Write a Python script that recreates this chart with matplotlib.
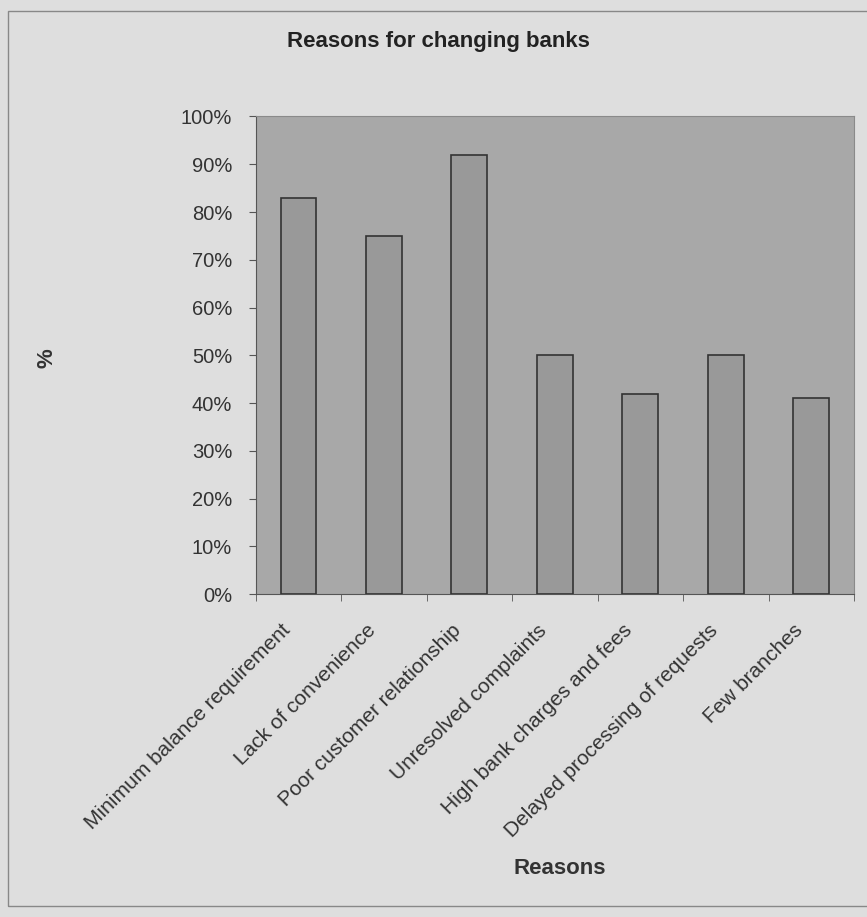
import matplotlib.pyplot as plt
import numpy as np
from matplotlib.patches import Rectangle
from matplotlib.transforms import ScaledTranslation

plt.rcParams['font.family'] = ['Liberation Sans', 'DejaVu Sans']

reasons = ['Minimum balance requirement', 'Lack of convenience',
           'Poor customer relationship', 'Unresolved complaints',
           'High bank charges and fees', 'Delayed processing of requests',
           'Few branches']
percent = [83, 75, 92, 50, 42, 50, 41]

fig = plt.figure(figsize=(8.67, 9.17), dpi=100, facecolor='#dedede')
ax = fig.add_axes([0.295, 0.352, 0.690, 0.521])
ax.set_facecolor('#a8a8a8')

x = np.arange(len(reasons))
ax.bar(x, percent, width=0.42, color='#999999', edgecolor='#333333',
       linewidth=1.2, zorder=3)

ax.set_xlim(-0.5, len(reasons) - 0.5)
ax.set_ylim(0, 100)
ax.set_yticks(np.arange(0, 101, 10))
ax.set_yticklabels([f'{v}%' for v in range(0, 101, 10)], fontsize=14.5,
                   color='#333333')
ax.set_xticks(x)
ax.set_xticklabels(reasons, rotation=45, ha='right', rotation_mode='anchor',
                   fontsize=15, color='#333333')
ax.tick_params(axis='x', length=0, pad=19)
# nudge the slanted category labels left so they end just left of each bar
shift = ScaledTranslation(-0.18, 0, fig.dpi_scale_trans)
for lab in ax.get_xticklabels():
    lab.set_transform(lab.get_transform() + shift)
ax.set_xticks(np.arange(-0.5, len(reasons), 1), minor=True)
ax.tick_params(axis='x', which='minor', length=5, color='#555555')
ax.tick_params(axis='y', length=5, color='#555555', pad=12)

for side in ['left', 'bottom']:
    ax.spines[side].set_color('#555555')
for side in ['top', 'right']:
    ax.spines[side].set_color('#8a8a8a')

fig.text(438 / 867, 1 - 41 / 917, 'Reasons for changing banks', fontsize=16,
         fontweight='bold', color='#222222', ha='center', va='center')
fig.text(47 / 867, 1 - 358 / 917, '%', fontsize=16, fontweight='bold',
         color='#333333', rotation=90, ha='center', va='center')
fig.text(560 / 867, 1 - 868 / 917, 'Reasons', fontsize=16, fontweight='bold',
         color='#333333', ha='center', va='center')

# outer chart frame
fig.patches.append(Rectangle((0.009, 0.012), 1.2, 0.976, transform=fig.transFigure,
                             fill=False, edgecolor='#888888', linewidth=1))

fig.savefig('out.png', dpi=100, facecolor=fig.get_facecolor())
